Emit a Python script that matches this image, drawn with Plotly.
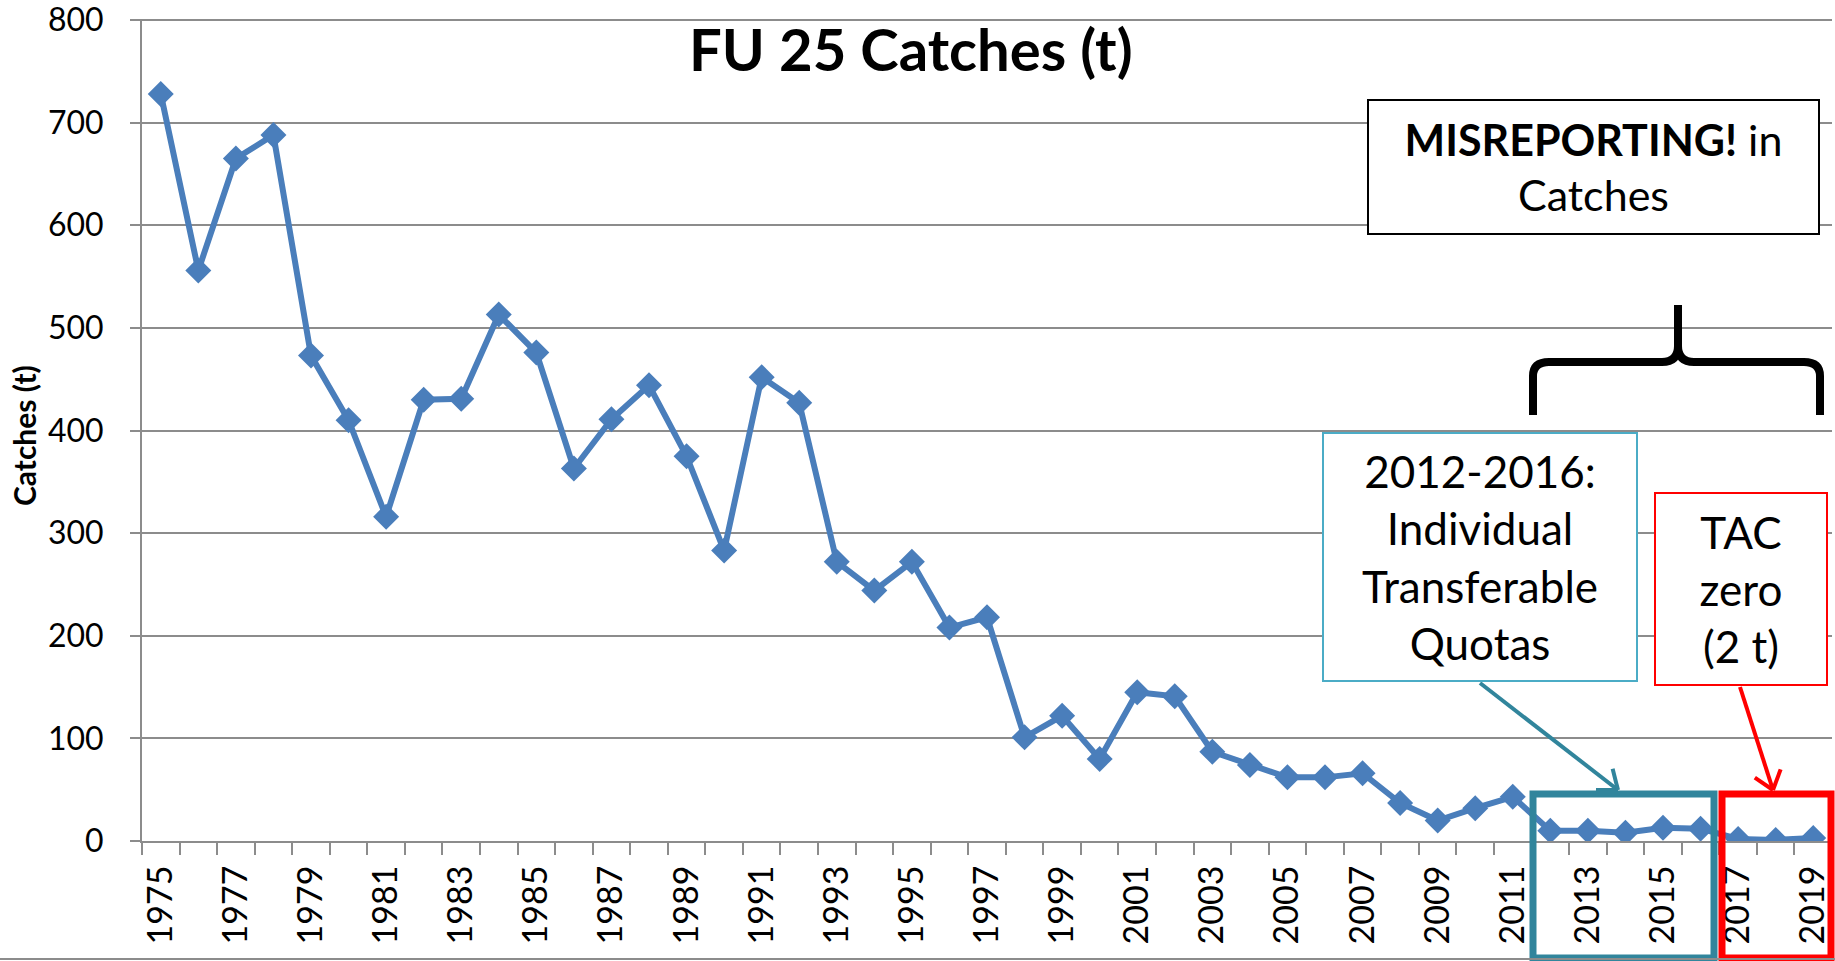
import math
import plotly.graph_objects as go

# ---------------- data ----------------
years = list(range(1975, 2020))
catches = [728, 556, 665, 688, 473, 410, 316, 430, 431, 513,
           476, 363, 411, 444, 375, 283, 452, 427, 272, 244,
           272, 208, 218, 101, 122, 80, 145, 141, 87, 74,
           62, 62, 66, 37, 20, 32, 43, 10, 10, 8,
           13, 12, 2, 1, 3]
y_ticks = [0, 100, 200, 300, 400, 500, 600, 700, 800]
x_tick_years = years[::2]
x_tick_text = [str(y) for y in x_tick_years]
cat_bounds = [y - 0.5 for y in years] + [years[-1] + 0.5]

title_text = "FU 25 Catches (t)"
y_title = "Catches (t)"
note_misreport = "<b>MISREPORTING!</b> in<br>Catches"
note_itq = "2012-2016:<br>Individual<br>Transferable<br>Quotas"
note_tac = "TAC<br>zero<br>(2 t)"

# ---------------- geometry ----------------
W, H = 1835, 961
ML, MT, PW, PH = 142, 19, 1690, 822
MR = W - ML - PW
MB = H - MT - PH
Y_MAX = 801

def X(px):
    return (px - ML) / PW

def Y(py):
    return (MT + PH - py) / PH

FONT = "Lato"
GRAY = "#8C8C8C"
BLUE = "#4A7EBB"
TEAL = "#31859C"
TEAL_LIGHT = "#4BACC6"
RED = "#FF0000"

fig = go.Figure()
fig.add_trace(go.Scatter(
    x=years, y=catches, mode="lines+markers",
    line=dict(color=BLUE, width=6),
    marker=dict(symbol="diamond", size=20, color=BLUE, line=dict(width=0)),
    showlegend=False, hoverinfo="x+y",
))

shapes = []
# thick highlight boxes
shapes.append(dict(type="rect", xref="paper", yref="paper",
                   x0=X(1533), x1=X(1714), y0=Y(958), y1=Y(794),
                   line=dict(color=TEAL, width=7), fillcolor="rgba(0,0,0,0)"))
shapes.append(dict(type="rect", xref="paper", yref="paper",
                   x0=X(1722), x1=X(1831), y0=Y(958), y1=Y(794),
                   line=dict(color=RED, width=7), fillcolor="rgba(0,0,0,0)"))

# curly brace
def P(px, py):
    return f"{X(px):.5f},{Y(py):.5f}"

brace = (f"M{P(1533,415)} L{P(1533,376)} Q{P(1533,362)} {P(1549,362)} "
         f"L{P(1662,362)} Q{P(1678,362)} {P(1678,346)} L{P(1678,305)} "
         f"M{P(1678,346)} Q{P(1678,362)} {P(1694,362)} "
         f"L{P(1804,362)} Q{P(1820,362)} {P(1820,376)} L{P(1820,415)}")
shapes.append(dict(type="path", xref="paper", yref="paper", path=brace,
                   line=dict(color="black", width=8)))

# arrows (line + open V head)
def arrow(x0, y0, x1, y1, color, width, head=22, ang=38):
    out = [dict(type="line", xref="paper", yref="paper",
                x0=X(x0), y0=Y(y0), x1=X(x1), y1=Y(y1),
                line=dict(color=color, width=width))]
    dx, dy = x0 - x1, y0 - y1
    n = math.hypot(dx, dy)
    ux, uy = dx / n, dy / n
    for s in (-1, 1):
        a = math.radians(ang * s)
        vx = ux * math.cos(a) - uy * math.sin(a)
        vy = ux * math.sin(a) + uy * math.cos(a)
        out.append(dict(type="line", xref="paper", yref="paper",
                        x0=X(x1), y0=Y(y1), x1=X(x1 + vx * head), y1=Y(y1 + vy * head),
                        line=dict(color=color, width=width)))
    return out

shapes += arrow(1480, 683, 1618, 790, TEAL, 4)
shapes += arrow(1740, 687, 1773, 790, RED, 4)

# bottom chart border
shapes.append(dict(type="line", xref="paper", yref="paper",
                   x0=X(0), x1=X(W), y0=Y(959), y1=Y(959),
                   line=dict(color=GRAY, width=2)))

annotations = []

def box(text, x0, y0, x1, y1, border, bw, size):
    annotations.append(dict(
        text=text, xref="paper", yref="paper",
        x=X((x0 + x1) / 2), y=Y((y0 + y1) / 2),
        xanchor="center", yanchor="middle", showarrow=False,
        width=(x1 - x0) - 2 * bw, height=(y1 - y0) - 2 * bw,
        borderpad=0, borderwidth=bw, bordercolor=border, bgcolor="white",
        align="center", valign="middle",
        font=dict(family=FONT, size=size, color="black")))

box(note_misreport, 1367, 99, 1820, 235, "black", 2, 43)
box(note_itq, 1322, 432, 1638, 682, TEAL_LIGHT, 2, 44)
box(note_tac, 1654, 492, 1828, 686, RED, 2, 44)

# title
annotations.append(dict(text=f"<b>{title_text}</b>", xref="paper", yref="paper",
                        x=X(911), y=Y(48), xanchor="center", yanchor="middle",
                        showarrow=False, font=dict(family=FONT, size=58, color="black")))
# y axis title
annotations.append(dict(text=f"<b>{y_title}</b>", xref="paper", yref="paper",
                        x=X(24), y=Y(436), xanchor="center", yanchor="middle",
                        textangle=-90, showarrow=False,
                        font=dict(family=FONT, size=30, color="black")))

fig.update_layout(
    width=W, height=H, autosize=False,
    margin=dict(l=ML, r=MR, t=MT, b=MB, pad=0, autoexpand=False),
    paper_bgcolor="white", plot_bgcolor="white",
    shapes=shapes, annotations=annotations,
    xaxis=dict(
        range=[years[0] - 0.5, years[-1] + 0.5], automargin=False,
        tickmode="array", tickvals=x_tick_years, ticktext=x_tick_text,
        tickangle=-90, ticks="", showgrid=False, zeroline=False,
        showline=True, linecolor=GRAY, linewidth=2,
        ticklabelstandoff=9, ticklabeloverflow="allow",
        tickfont=dict(family=FONT, size=34, color="black"),
        minor=dict(tickmode="array", tickvals=cat_bounds, ticks="outside",
                   ticklen=12, tickwidth=2, tickcolor=GRAY, showgrid=False),
    ),
    yaxis=dict(
        range=[0, Y_MAX], tickmode="array", tickvals=y_ticks, automargin=False,
        showgrid=True, gridcolor=GRAY, gridwidth=2, zeroline=False,
        showline=True, linecolor=GRAY, linewidth=2,
        ticks="outside", ticklen=10, tickwidth=2, tickcolor=GRAY,
        ticklabelstandoff=20, ticklabeloverflow="allow",
        tickfont=dict(family=FONT, size=32, color="black"),
    ),
)

fig.write_html("out.html", config={"displayModeBar": False},
               post_script="document.body.style.margin='0';document.body.style.overflow='hidden';")
